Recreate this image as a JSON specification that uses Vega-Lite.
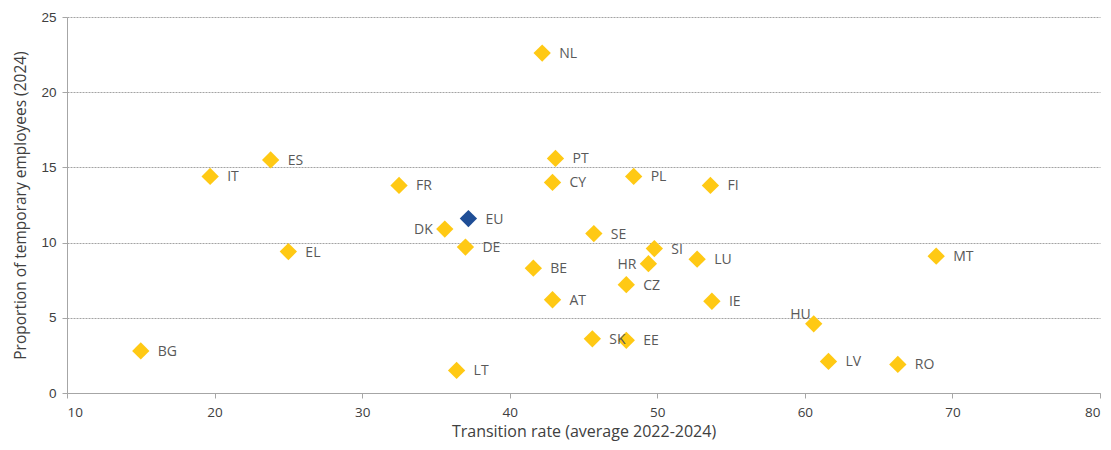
{
  "$schema": "https://vega.github.io/schema/vega-lite/v6.json",
  "width": 1033,
  "height": 376,
  "autosize": {"type": "none"},
  "padding": {"left": 67, "top": 17, "right": 11, "bottom": 57},
  "background": "white",
  "config": {"view": {"stroke": null}},
  "data": {"values": [
    {"c": "NL", "x": 42.2, "y": 22.6, "g": "MS"},
    {"c": "PT", "x": 43.1, "y": 15.6, "g": "MS"},
    {"c": "CY", "x": 42.9, "y": 14.0, "g": "MS"},
    {"c": "PL", "x": 48.4, "y": 14.4, "g": "MS"},
    {"c": "FI", "x": 53.6, "y": 13.8, "g": "MS"},
    {"c": "ES", "x": 23.8, "y": 15.5, "g": "MS"},
    {"c": "IT", "x": 19.7, "y": 14.4, "g": "MS"},
    {"c": "FR", "x": 32.5, "y": 13.8, "g": "MS"},
    {"c": "EU", "x": 37.2, "y": 11.6, "g": "EU"},
    {"c": "DK", "x": 35.6, "y": 10.9, "g": "MS"},
    {"c": "DE", "x": 37.0, "y": 9.7, "g": "MS"},
    {"c": "SE", "x": 45.7, "y": 10.6, "g": "MS"},
    {"c": "SI", "x": 49.8, "y": 9.6, "g": "MS"},
    {"c": "LU", "x": 52.7, "y": 8.9, "g": "MS"},
    {"c": "HR", "x": 49.4, "y": 8.6, "g": "MS"},
    {"c": "EL", "x": 25.0, "y": 9.4, "g": "MS"},
    {"c": "BE", "x": 41.6, "y": 8.3, "g": "MS"},
    {"c": "MT", "x": 68.9, "y": 9.1, "g": "MS"},
    {"c": "CZ", "x": 47.9, "y": 7.2, "g": "MS"},
    {"c": "AT", "x": 42.9, "y": 6.2, "g": "MS"},
    {"c": "IE", "x": 53.7, "y": 6.1, "g": "MS"},
    {"c": "HU", "x": 60.6, "y": 4.6, "g": "MS"},
    {"c": "BG", "x": 15.0, "y": 2.8, "g": "MS"},
    {"c": "SK", "x": 45.6, "y": 3.6, "g": "MS"},
    {"c": "EE", "x": 47.9, "y": 3.5, "g": "MS"},
    {"c": "LV", "x": 61.6, "y": 2.1, "g": "MS"},
    {"c": "RO", "x": 66.3, "y": 1.9, "g": "MS"},
    {"c": "LT", "x": 36.4, "y": 1.5, "g": "MS"}
  ]},
  "encoding": {
    "x": {"field": "x", "type": "quantitative", "scale": {"domain": [10, 80], "nice": false, "zero": false},
      "axis": {"title": "Transition rate (average 2022-2024)", "values": [10,20,30,40,50,60,70,80], "grid": false,
        "domainColor": "#a6a6a6", "tickColor": "#a6a6a6", "tickSize": 5, "labelFont": "Open Sans", "labelFontSize": 13.5, "labelColor": "#404040", "labelPadding": 7,
        "titleFont": "Open Sans", "titleFontWeight": "normal", "titleFontSize": 16, "titleColor": "#404040", "titlePadding": 5}},
    "y": {"field": "y", "type": "quantitative", "scale": {"domain": [0, 25], "nice": false},
      "axis": {"title": "Proportion of temporary employees (2024)", "values": [0,5,10,15,20,25], "grid": true, "gridDash": [2,1], "gridColor": "#8c8c8c", "gridWidth": 0.8,
        "domainColor": "#a6a6a6", "tickColor": "#a6a6a6", "tickSize": 5, "labelFont": "Liberation Sans", "labelFontSize": 13.5, "labelColor": "#404040", "labelPadding": 6,
        "titleFont": "Open Sans", "titleFontWeight": "normal", "titleFontSize": 15.5, "titleColor": "#404040", "titlePadding": 12}}
  },
  "layer": [
    {
      "mark": {"type": "point", "shape": "diamond", "filled": true, "size": 300, "opacity": 1},
      "encoding": {
        "color": {"field": "g", "type": "nominal", "scale": {"domain": ["MS", "EU"], "range": ["#ffc914", "#1f4e96"]}, "legend": null}
      }
    },
    {
      "transform": [{"filter": "datum.c != 'DK' && datum.c != 'HR' && datum.c != 'HU'"}],
      "mark": {"type": "text", "align": "left", "baseline": "middle", "dx": 17, "dy": 1, "font": "Open Sans", "fontSize": 14, "color": "#595959"},
      "encoding": {"text": {"field": "c"}}
    },
    {
      "transform": [{"filter": "datum.c == 'DK' || datum.c == 'HR'"}],
      "mark": {"type": "text", "align": "right", "baseline": "middle", "dx": -12, "dy": 1, "font": "Open Sans", "fontSize": 14, "color": "#595959"},
      "encoding": {"text": {"field": "c"}}
    },
    {
      "transform": [{"filter": "datum.c == 'HU'"}],
      "mark": {"type": "text", "align": "right", "baseline": "middle", "dx": -3, "dy": -9, "font": "Open Sans", "fontSize": 14, "color": "#595959"},
      "encoding": {"text": {"field": "c"}}
    }
  ]
}
